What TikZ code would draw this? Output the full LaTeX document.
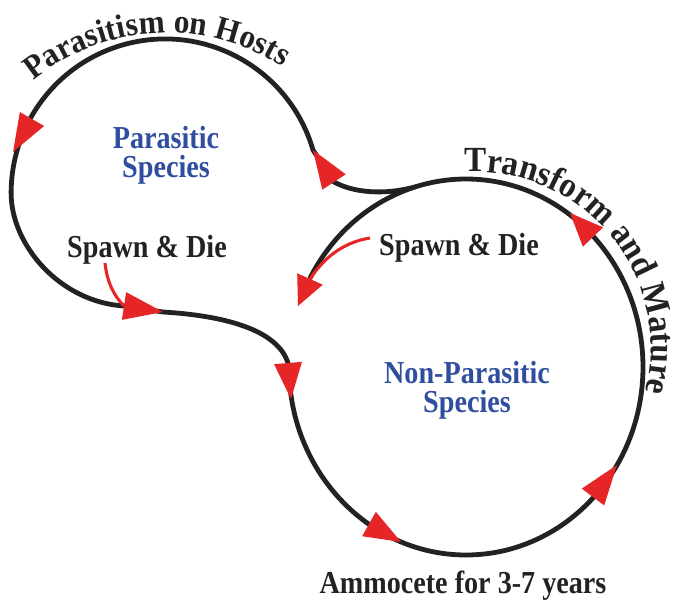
\documentclass[tikz,border=0pt]{standalone}
\usepackage{fontspec}
\setmainfont{Liberation Serif}
\newfontfamily\narrowserif[FakeStretch=0.88]{Liberation Serif}
\newfontfamily\archserif[FakeStretch=0.94]{Liberation Serif}
\usetikzlibrary{calc,decorations.text}
\definecolor{ink}{HTML}{222222}
\definecolor{tipred}{HTML}{E62626}
\definecolor{speciesblue}{HTML}{2F4E9F}
% red triangular arrowhead: #1 = base midpoint, #2 = tip
\newcommand\tipat[2]{\fill[tipred] (#2) -- ($(#1)!10.5pt!90:(#2)$) -- ($(#1)!10.5pt!-90:(#2)$) -- cycle;}
\begin{document}
\begin{tikzpicture}[x=0.75pt,y=-0.75pt,
  cycleline/.style={draw=ink,line width=3.6pt},
  spawnline/.style={draw=tipred,line width=2.3pt},
  label/.style={text=ink,font=\narrowserif\fontsize{24}{24}\selectfont\bfseries,anchor=base,inner sep=0pt},
  species/.style={text=speciesblue,font=\narrowserif\fontsize{24}{24}\selectfont\bfseries,anchor=base,inner sep=0pt},
]
\useasboundingbox (0,0) rectangle (676,603);

% key points of the life cycle
\coordinate (J)  at (418,186);   % branch leaves the non-parasitic loop
\coordinate (b1) at (334,182); \coordinate (a1) at (313,150);
\coordinate (b2) at (32,119);  \coordinate (a2) at (13,152);
\coordinate (b3) at (124,306); \coordinate (a3) at (163,312);
\coordinate (b4) at (288,363); \coordinate (a4) at (291,399);
\coordinate (b5) at (369,524); \coordinate (a5) at (401,542);
\coordinate (b6) at (593,497); \coordinate (a6) at (617,465);
\coordinate (b7) at (593,237); \coordinate (a7) at (570,213);
\coordinate (b8) at (310,279); \coordinate (a8) at (298,306);
\coordinate (E0) at (289,367);   % leftmost point of the non-parasitic loop

% the cycle line
\path[cycleline,line cap=butt]
  (J) .. controls (392,194) and (358,195) .. (b1) -- (a1)
  arc[start angle=-16.2, end angle=-180, radius=154]
  .. controls (11,245) and (60,302) .. (b3) -- (a3)
  .. controls (230,316) and (282,332) .. (E0)
  arc[start angle=180, end angle=-152, x radius=177, y radius=188];

% spawning pointers
\coordinate (s1) at (105,263);
\coordinate (s2) at (370,238);
\draw[spawnline] (s1) .. controls (107,282) and (114,296) .. (b3);
\draw[spawnline] (s2) .. controls (345,242) and (325,256) .. (b8);

% arrowheads
\tipat{b1}{a1} \tipat{b2}{a2} \tipat{b3}{a3} \tipat{b4}{a4}
\tipat{b5}{a5} \tipat{b6}{a6} \tipat{b7}{a7} \tipat{b8}{a8}

% labels
\node[species] (ps1) at (166,148) {Parasitic};
\node[species] (ps2) at (166,177) {Species};
\node[species] (np1) at (467,383) {Non-Parasitic};
\node[species] (np2) at (467,412) {Species};
\node[label] (sd1) at (147,257) {Spawn \& Die};
\node[label] (sd2) at (459,255) {Spawn \& Die};
\node[label] (am) at (463,593) {Ammocete for 3-7 years};

% curved captions
\path[decorate,decoration={text along path,text align=center,text color=ink,
  text={|\archserif\fontsize{25}{25}\selectfont\bfseries|Parasitism on Hosts}}]
  (167,245) ++(205:212) arc[start angle=205, end angle=329, radius=212];
\path[decorate,decoration={text along path,text align=center,text color=ink,
  text={|\archserif\fontsize{26.5}{26.5}\selectfont\bfseries|Transform and Mature}}]
  (475,348) ++(-100:176) arc[start angle=-100, end angle=21, radius=176];
\end{tikzpicture}
\end{document}
